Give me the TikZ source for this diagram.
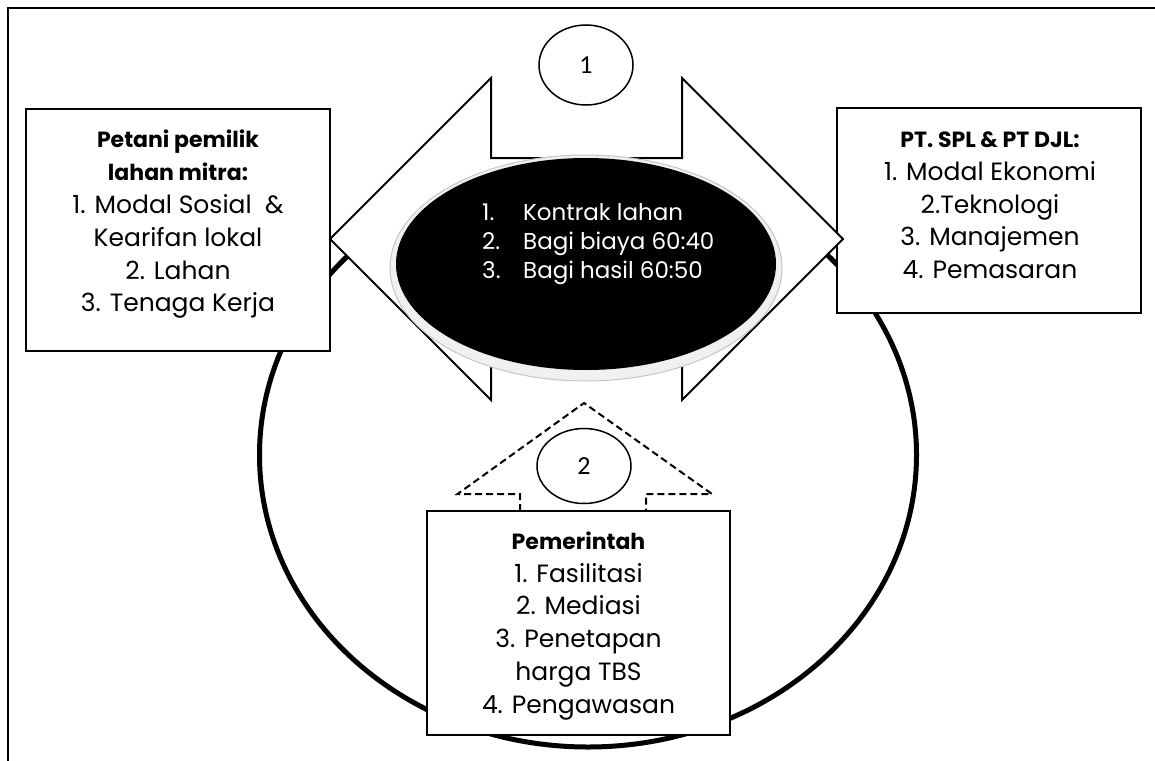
\documentclass[tikz,border=0pt]{standalone}
\usepackage{fontspec}
\setmainfont{Poppins}
\newfontfamily\calib{Carlito}
\usetikzlibrary{shapes.geometric}
\newcommand{\hdr}[1]{{\fontsize{22}{32.8}\selectfont\bfseries #1}}
\begin{document}
\begin{tikzpicture}[x=1pt,y=-1pt,
  box/.style={draw, line width=2pt, fill=white, inner sep=0pt},
  txt/.style={align=center, font=\fontsize{25}{32.8}\selectfont, inner sep=0pt},
  num/.style={draw, line width=1.5pt, ellipse, fill=white, inner sep=0pt, font=\calib\fontsize{26}{28}\selectfont},
  shapeline/.style={line width=2pt, line join=miter},
]
\useasboundingbox (0,0) rectangle (1155,760);
\clip (0,0) rectangle (1155,760);
\fill[white] (0,0) rectangle (1155,760);
\draw[line width=2pt] (8,8) rectangle (1200,800);
% big ring
\node[draw, line width=5pt, ellipse, minimum width=657, minimum height=584, inner sep=0pt] (ring) at (588,455) {};
% side boxes
\node[box, minimum width=304, minimum height=242] (farmer) at (178,230) {};
\node[txt, anchor=north] (farmertext) at (178,130) {\hdr{Petani pemilik}\\\hdr{lahan mitra:}\\1. Modal Sosial~~\&\\Kearifan lokal\\2. Lahan\\3. Tenaga Kerja};
\node[box, minimum width=304, minimum height=205] (company) at (989,210.5) {};
\node[txt, anchor=north] (companytext) at (990,131.5) {\hdr{PT. SPL \& PT DJL:}\\1. Modal Ekonomi\\2.Teknologi\\3. Manajemen\\4. Pemasaran};
% double arrow
\draw[shapeline, fill=white] (330,239) -- (491,78) -- (491,158) -- (682,158) -- (682,78) -- (843,239) -- (682,400) -- (682,320) -- (491,320) -- (491,400) -- cycle;
% central ellipse
\node[ellipse, fill=gray!12, draw=gray!45, line width=1pt, minimum width=392, minimum height=226, inner sep=0pt] (glow) at (586,268) {};
\node[ellipse, fill=black, minimum width=380, minimum height=212, inner sep=0pt] (deal) at (586,264) {};
\node[anchor=north west, text=white, align=left, inner sep=0pt, font=\fontsize{23}{29}\selectfont] (dealtext) at (482,203) {\makebox[41pt][l]{1.}Kontrak lahan\\\makebox[41pt][l]{2.}Bagi biaya 60:40\\\makebox[41pt][l]{3.}Bagi hasil 60:50};
% circle 1
\node[num, minimum width=94, minimum height=80] (c1) at (586,65) {1};
% dashed arrow up
\draw[line width=2pt, dash pattern=on 7pt off 4pt] (520,511) -- (520,494) -- (457.5,494) -- (584,403) -- (712,494) -- (646,494) -- (646,511);
\node[num, minimum width=94, minimum height=75] (c2) at (584,466) {2};
% government box
\node[box, minimum width=303, minimum height=224] (gov) at (578.5,623) {};
\node[txt, anchor=north] (govtext) at (578.5,531.5) {\hdr{Pemerintah}\\1. Fasilitasi\\2. Mediasi\\3. Penetapan\\harga TBS\\4. Pengawasan};
\end{tikzpicture}
\end{document}
